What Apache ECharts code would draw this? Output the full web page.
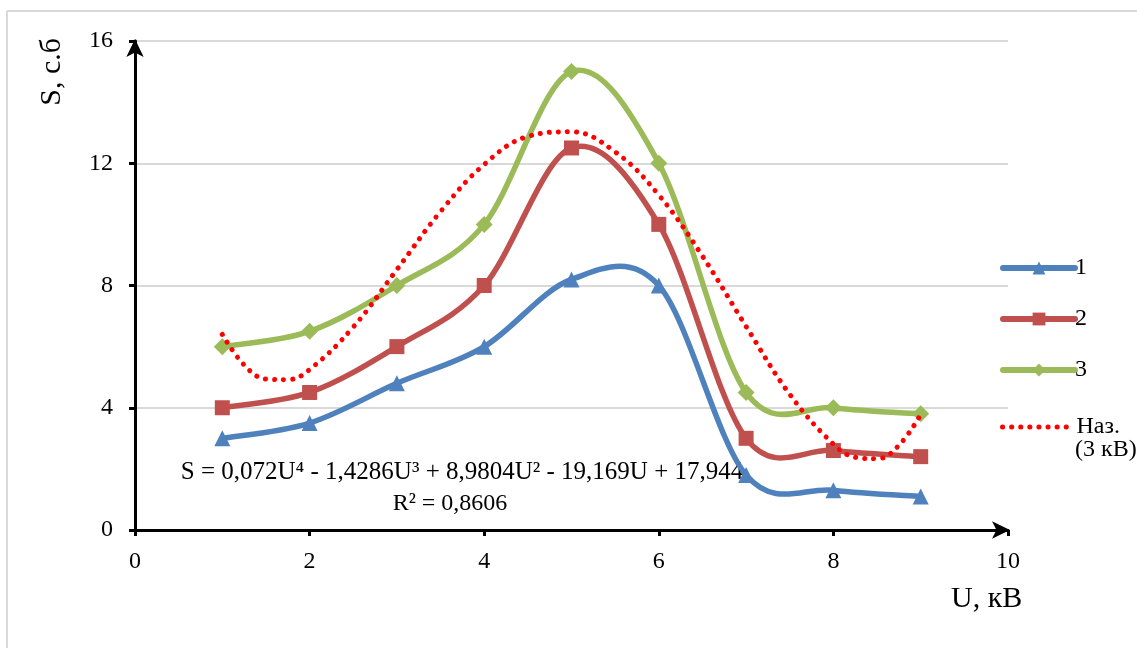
<!DOCTYPE html>
<html>
<head>
<meta charset="utf-8">
<script src="https://cdn.jsdelivr.net/npm/echarts@6/dist/echarts.min.js"></script>
<style>
  html, body { margin: 0; padding: 0; background: #fff; }
  #chart { width: 1137px; height: 648px; }
</style>
</head>
<body>
<div id="chart"></div>
<script>
// Voltage U, kV
const voltage = [1, 2, 3, 4, 5, 6, 7, 8, 9];
// Measured S values for the three series
const series1 = [3.0, 3.5, 4.8, 6.0, 8.2, 8.0, 1.8, 1.3, 1.1];
const series2 = [4.0, 4.5, 6.0, 8.0, 12.5, 10.0, 3.0, 2.6, 2.4];
const series3 = [6.0, 6.5, 8.0, 10.0, 15.0, 12.0, 4.5, 4.0, 3.8];
// Polynomial trend line of series 3
const trendU = [1, 1.25, 1.5, 1.75, 2, 2.5, 3, 3.5, 4, 4.5, 5, 5.5, 6, 6.5, 7, 7.5, 8, 8.25, 8.5, 8.75, 9];
const trendS = [6.40, 5.40, 4.94, 4.92, 5.25, 6.64, 8.52, 10.42, 11.96, 12.88, 13.03, 12.37, 10.96, 8.96, 6.66, 4.44, 2.81, 2.38, 2.33, 2.77, 3.78];
const xTicks = [0, 2, 4, 6, 8, 10];
const yTicks = [0, 4, 8, 12, 16];
const seriesNames = ['1', '2', '3', 'Наз. (3 кВ)'];
const equationText = 'S = 0,072U⁴ - 1,4286U³ + 8,9804U² - 19,169U + 17,944';
const r2Text = 'R² = 0,8606';

const FONT = '"Liberation Serif", "Times New Roman", serif';
const pairs = (xs, ys) => xs.map((x, i) => [x, ys[i]]);

const chart = echarts.init(document.getElementById('chart'), null, { renderer: 'canvas' });

// Smoothed curve drawn segment by segment as cardinal (Catmull-Rom) Bezier pieces,
// with every point placed through the cartesian axes.
const curveSeries = (values, color) => ({
  type: 'custom',
  silent: true,
  z: 2,
  data: pairs(voltage.slice(0, -1), values.slice(0, -1)),
  renderItem: (params, api) => {
    const i = params.dataIndex;
    const pts = voltage.map((x, k) => api.coord([x, values[k]]));
    const n = pts.length - 1;
    const p0 = pts[Math.max(i - 1, 0)];
    const p1 = pts[i];
    const p2 = pts[i + 1];
    const p3 = pts[Math.min(i + 2, n)];
    const t = 1 / 6;
    return {
      type: 'bezierCurve',
      shape: {
        x1: p1[0], y1: p1[1],
        cpx1: p1[0] + (p2[0] - p0[0]) * t, cpy1: p1[1] + (p2[1] - p0[1]) * t,
        cpx2: p2[0] - (p3[0] - p1[0]) * t, cpy2: p2[1] - (p3[1] - p1[1]) * t,
        x2: p2[0], y2: p2[1]
      },
      style: { stroke: color, lineWidth: 5.5, fill: null, lineCap: 'round' }
    };
  }
});

// Markers (and legend entries) of the measured series
const markerSeries = (name, data, color, symbol, size) => ({
  name,
  type: 'line',
  data: pairs(voltage, data),
  symbol,
  symbolSize: size,
  lineStyle: { color, width: 5.5, opacity: 0 },
  itemStyle: { color, borderWidth: 0 },
  z: 3
});

chart.setOption({
  animation: false,
  backgroundColor: '#ffffff',
  grid: { left: 135, right: 129, top: 41, bottom: 118, containLabel: false },
  xAxis: {
    type: 'value',
    min: xTicks[0],
    max: xTicks[xTicks.length - 1],
    interval: xTicks[1] - xTicks[0],
    axisLine: { show: true, onZero: false, symbol: ['none', 'arrow'], symbolSize: [13, 18], symbolOffset: [0, 2],
      lineStyle: { color: '#000', width: 3 } },
    axisTick: { show: true, inside: false, length: 6, lineStyle: { color: '#000', width: 3 } },
    axisLabel: { color: '#000', fontFamily: FONT, fontSize: 24, margin: 20 },
    splitLine: { show: false }
  },
  yAxis: {
    type: 'value',
    min: yTicks[0],
    max: yTicks[yTicks.length - 1],
    interval: yTicks[1] - yTicks[0],
    axisLine: { show: true, onZero: false, symbol: ['none', 'arrow'], symbolSize: [13, 18], symbolOffset: [0, 2],
      lineStyle: { color: '#000', width: 3 } },
    axisTick: { show: true, inside: false, length: 6, lineStyle: { color: '#000', width: 3 } },
    axisLabel: { color: '#000', fontFamily: FONT, fontSize: 24, margin: 22 },
    splitLine: { show: true, lineStyle: { color: '#d9d9d9', width: 2 } }
  },
  legend: [
    {
      data: seriesNames.slice(0, 3),
      orient: 'vertical',
      left: 995,
      top: 251,
      itemWidth: 72,
      itemHeight: 16,
      itemGap: 27,
      lineStyle: { width: 6, cap: 'round', opacity: 1 },
      textStyle: { color: '#000', fontFamily: FONT, fontSize: 24, padding: [0, 0, 0, -5] }
    },
    {
      data: [seriesNames[3]],
      orient: 'vertical',
      left: 995,
      top: 410,
      itemWidth: 72,
      itemHeight: 16,
      itemStyle: { opacity: 0 },
      lineStyle: { width: 5, cap: 'round' },
      formatter: () => 'Наз.',
      textStyle: { color: '#000', fontFamily: FONT, fontSize: 24, padding: [0, 0, 0, -3] }
    }
  ],
  graphic: [
    { type: 'line', shape: { x1: 7, y1: 11, x2: 1137, y2: 11 }, style: { stroke: '#d9d9d9', lineWidth: 2 }, silent: true },
    { type: 'line', shape: { x1: 7, y1: 11, x2: 7, y2: 648 }, style: { stroke: '#d9d9d9', lineWidth: 2 }, silent: true },
    { type: 'text', left: 1075, top: 438,
      style: { text: '(3 кВ)', font: '24px ' + FONT, fill: '#000' } },
    { type: 'text', left: 37, top: 38, rotation: Math.PI / 2,
      style: { text: 'S, с.б', font: '30px ' + FONT, fill: '#000' } },
    { type: 'text', left: 951, top: 584,
      style: { text: 'U, кВ', font: '30px ' + FONT, fill: '#000' } },
    { type: 'text', x: 462, y: 472,
      style: { text: equationText, font: '25px ' + FONT, fill: '#000', align: 'center', verticalAlign: 'middle' } },
    { type: 'text', x: 450, y: 504,
      style: { text: r2Text, font: '24px ' + FONT, fill: '#000', align: 'center', verticalAlign: 'middle' } }
  ],
  series: [
    curveSeries(series1, '#4f81bd'),
    curveSeries(series2, '#c0504d'),
    curveSeries(series3, '#9bbb59'),
    markerSeries(seriesNames[0], series1, '#4f81bd', 'triangle', 16),
    markerSeries(seriesNames[1], series2, '#c0504d', 'rect', 15),
    markerSeries(seriesNames[2], series3, '#9bbb59', 'diamond', 17),
    {
      name: seriesNames[3],
      type: 'line',
      data: pairs(trendU, trendS),
      smooth: 0.4,
      symbol: 'none',
      lineStyle: { color: '#ff0000', width: 5, type: [0.1, 9], cap: 'round' },
      itemStyle: { color: '#ff0000' },
      z: 4
    }
  ]
});
</script>
</body>
</html>
